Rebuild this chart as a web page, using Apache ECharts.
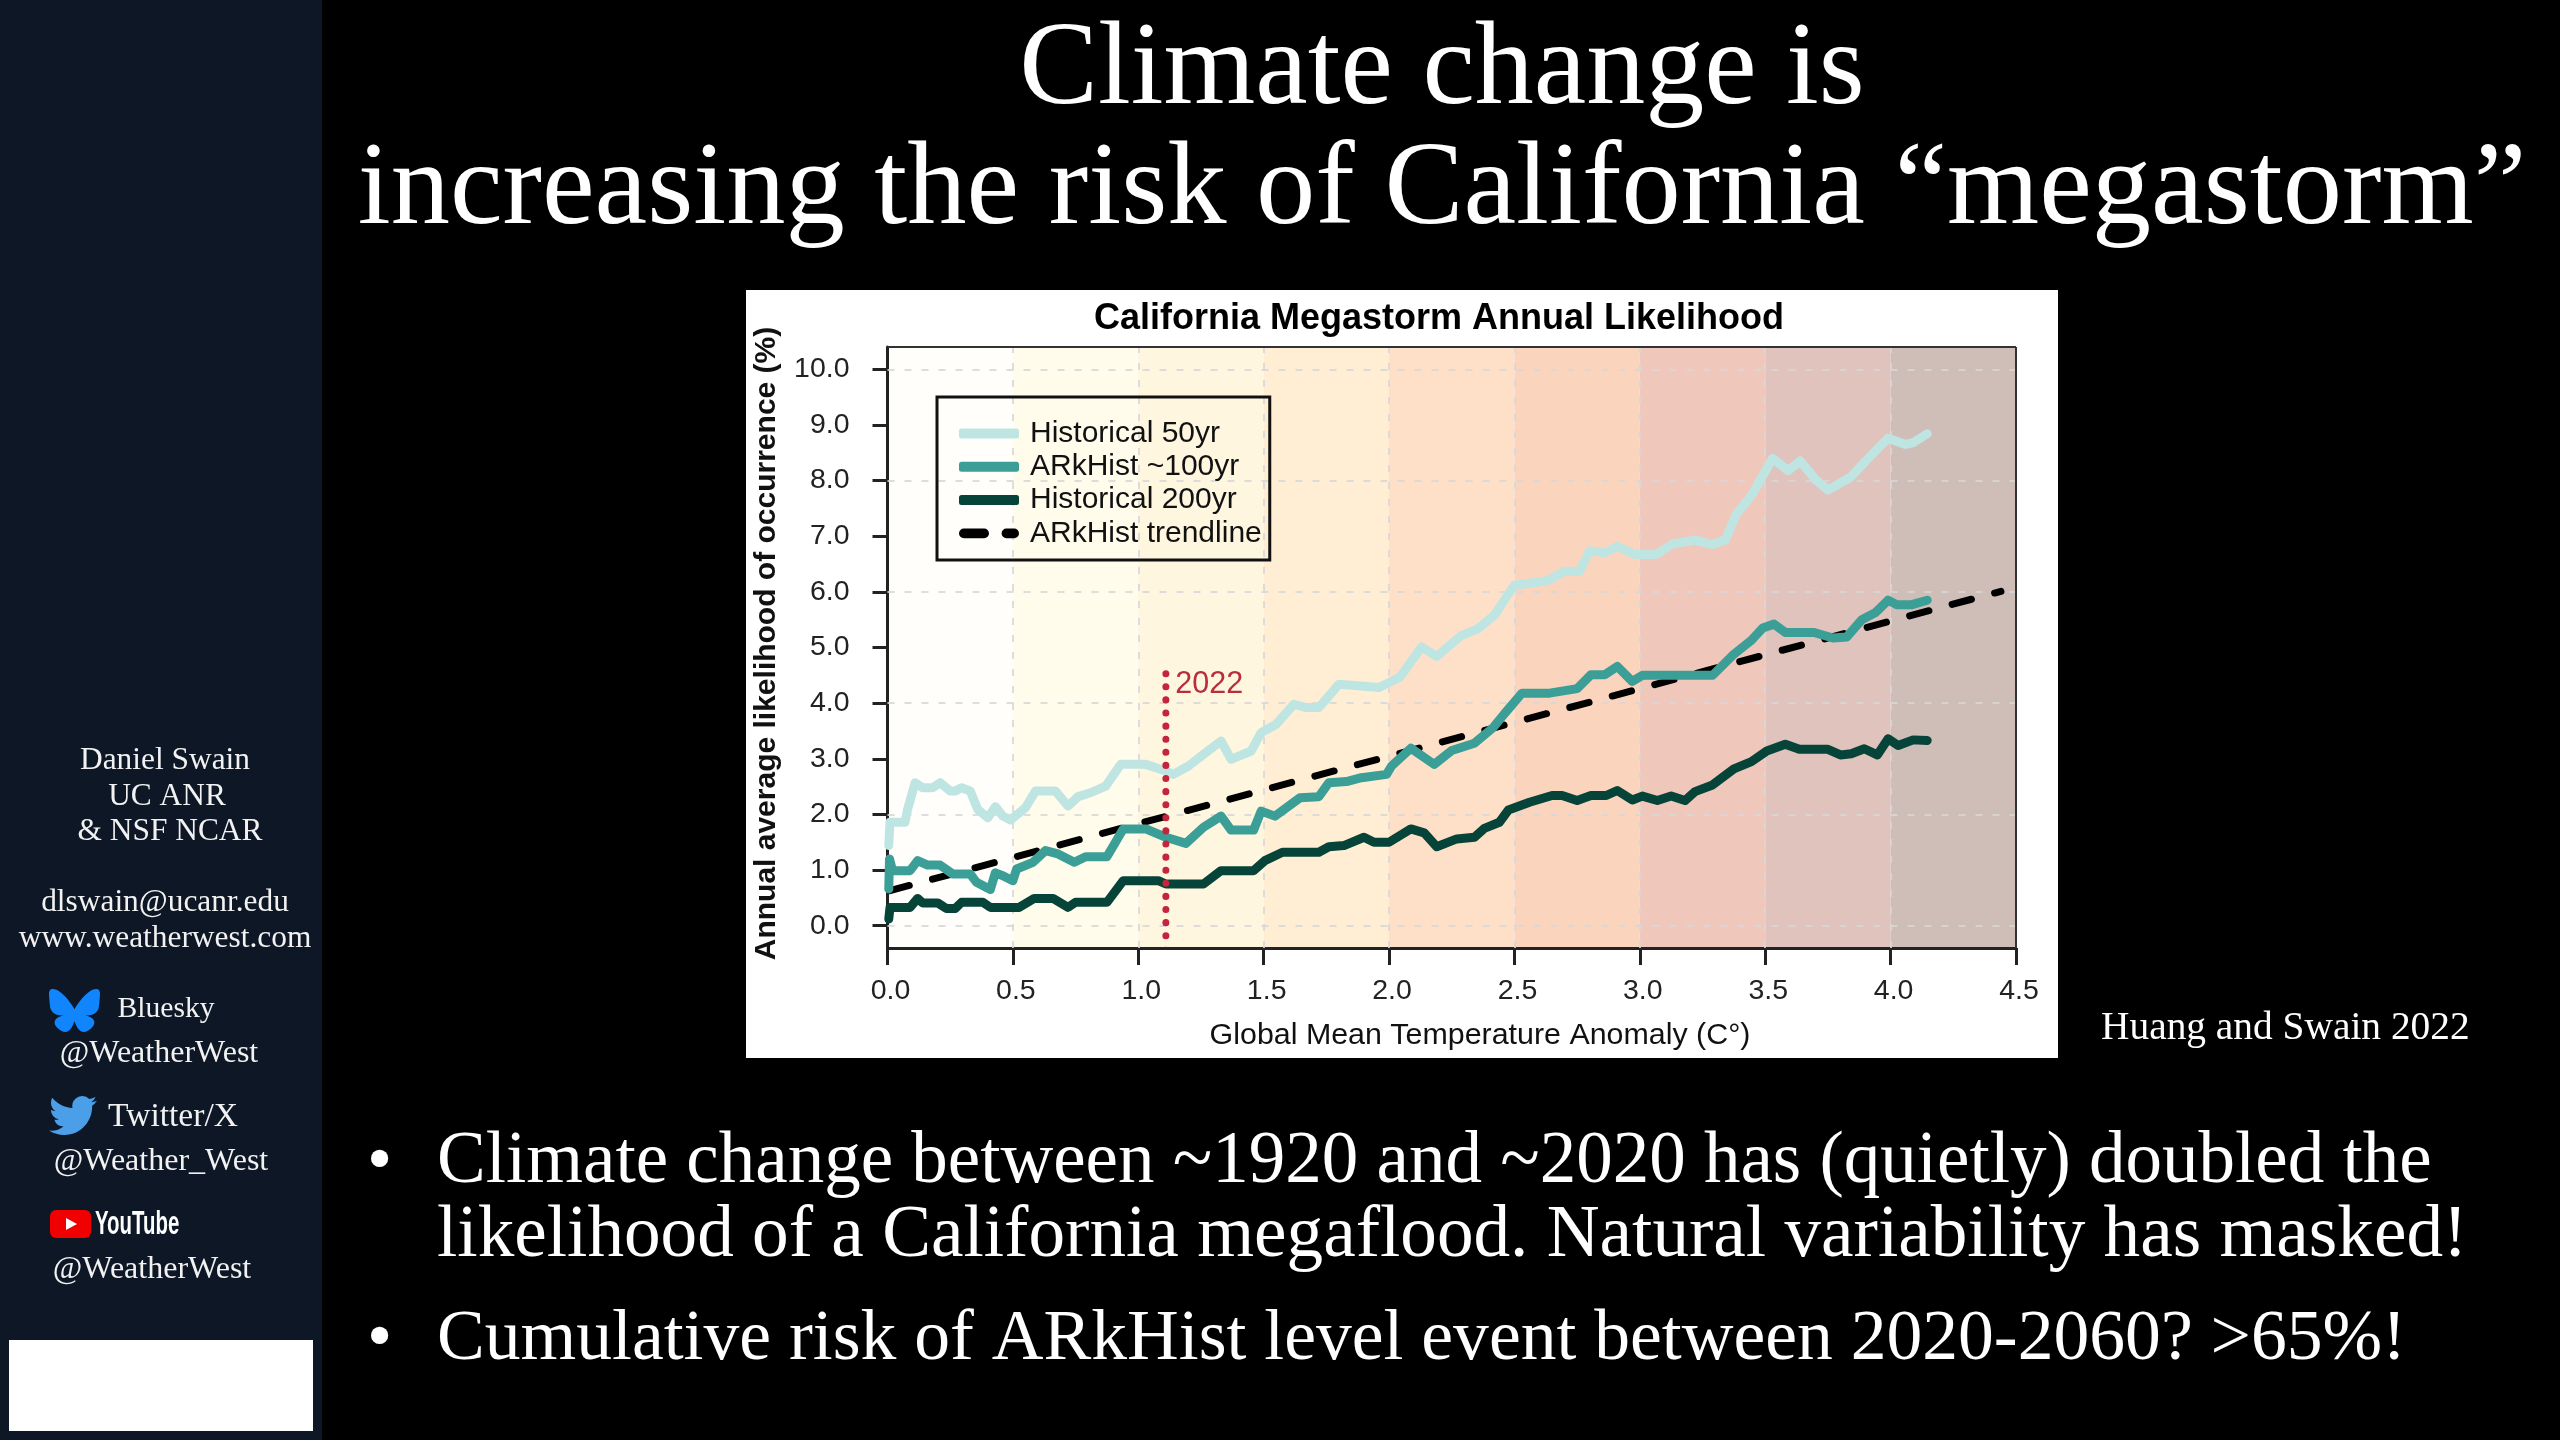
<!DOCTYPE html>
<html><head><meta charset="utf-8">
<style>html,body{margin:0;padding:0;background:#000}#c{width:2560px;height:1440px}</style>
<script src="https://cdn.jsdelivr.net/npm/echarts@6/dist/echarts.min.js"></script>
</head><body><div id="c"></div>
<script>
const historical50 = [[0.005,1.44],[0.01,1.86],[0.07,1.86],[0.08,2.09],[0.11,2.57],[0.14,2.48],[0.18,2.48],[0.21,2.57],[0.25,2.42],[0.27,2.42],[0.295,2.48],[0.33,2.42],[0.36,2.09],[0.40,1.94],[0.43,2.14],[0.46,1.97],[0.49,1.9],[0.55,2.12],[0.59,2.42],[0.67,2.42],[0.72,2.15],[0.76,2.32],[0.81,2.39],[0.87,2.51],[0.93,2.9],[1.03,2.9],[1.11,2.78],[1.14,2.72],[1.2,2.87],[1.26,3.08],[1.33,3.32],[1.37,2.99],[1.45,3.14],[1.49,3.47],[1.55,3.62],[1.62,3.98],[1.67,3.92],[1.72,3.92],[1.80,4.34],[1.96,4.28],[2.044,4.47],[2.13,5.01],[2.19,4.84],[2.286,5.21],[2.355,5.34],[2.42,5.58],[2.468,5.91],[2.50,6.12],[2.63,6.2],[2.70,6.37],[2.76,6.37],[2.80,6.74],[2.86,6.7],[2.91,6.82],[2.98,6.67],[3.065,6.67],[3.13,6.86],[3.22,6.93],[3.29,6.85],[3.34,6.93],[3.385,7.4],[3.445,7.73],[3.53,8.4],[3.59,8.18],[3.64,8.35],[3.70,8.02],[3.75,7.83],[3.84,8.06],[3.90,8.35],[3.99,8.76],[4.06,8.65],[4.09,8.68],[4.146,8.84]];
const arkHist100 = [[0.005,0.66],[0.008,1.2],[0.02,0.99],[0.09,0.99],[0.12,1.17],[0.16,1.09],[0.21,1.09],[0.26,0.93],[0.33,0.93],[0.355,0.78],[0.41,0.65],[0.43,0.95],[0.46,0.9],[0.5,0.81],[0.515,1.02],[0.58,1.14],[0.63,1.35],[0.68,1.29],[0.745,1.14],[0.79,1.24],[0.875,1.24],[0.94,1.74],[1.03,1.74],[1.11,1.59],[1.19,1.48],[1.26,1.77],[1.33,1.97],[1.37,1.72],[1.46,1.72],[1.49,2.06],[1.545,1.97],[1.645,2.3],[1.72,2.32],[1.76,2.57],[1.83,2.59],[1.89,2.66],[1.99,2.72],[2.01,2.87],[2.087,3.19],[2.18,2.9],[2.25,3.15],[2.34,3.28],[2.415,3.56],[2.46,3.81],[2.53,4.18],[2.64,4.18],[2.75,4.26],[2.805,4.51],[2.86,4.51],[2.91,4.66],[2.97,4.39],[3.01,4.5],[3.29,4.5],[3.375,4.88],[3.445,5.13],[3.49,5.35],[3.535,5.42],[3.58,5.27],[3.695,5.27],[3.77,5.17],[3.825,5.19],[3.885,5.5],[3.94,5.63],[3.99,5.85],[4.025,5.77],[4.085,5.77],[4.146,5.85]];
const historical200 = [[0.005,0.12],[0.01,0.33],[0.09,0.33],[0.12,0.49],[0.14,0.41],[0.2,0.41],[0.235,0.31],[0.27,0.31],[0.295,0.42],[0.38,0.42],[0.41,0.33],[0.525,0.33],[0.585,0.49],[0.66,0.49],[0.72,0.33],[0.75,0.42],[0.875,0.42],[0.94,0.81],[1.08,0.81],[1.11,0.75],[1.26,0.75],[1.33,0.99],[1.46,0.99],[1.505,1.17],[1.575,1.32],[1.72,1.32],[1.76,1.42],[1.82,1.44],[1.9,1.59],[1.94,1.5],[2.0,1.5],[2.087,1.74],[2.14,1.67],[2.19,1.42],[2.27,1.56],[2.34,1.59],[2.38,1.75],[2.44,1.86],[2.476,2.08],[2.56,2.22],[2.65,2.34],[2.69,2.34],[2.75,2.25],[2.805,2.34],[2.866,2.34],[2.91,2.43],[2.97,2.26],[3.01,2.33],[3.07,2.25],[3.125,2.33],[3.18,2.25],[3.22,2.41],[3.29,2.53],[3.375,2.82],[3.445,2.95],[3.506,3.14],[3.58,3.26],[3.636,3.17],[3.75,3.17],[3.80,3.07],[3.843,3.09],[3.895,3.18],[3.947,3.07],[3.99,3.36],[4.03,3.24],[4.09,3.34],[4.146,3.33]];
const arkTrend = [[0.01,0.63],[4.44,6.01]];
const marker2022 = [[1.11,4.53],[1.11,-0.38]];
const bandEdges = [0,0.5,1,1.5,2,2.5,3,3.5,4,4.5];
const bandColors = ['#fffefa','#fffcec','#fff6e0','#ffeed4','#fee0c8','#fbd4be','#efc8bb','#e0c3bc','#cfbdb7'];
const yTicks = [0,1,2,3,4,5,6,7,8,9,10];
const yGrid = [0,2,4,6,8,10];
const xGrid = [0.5,1,1.5,2,2.5,3,3.5,4];
const seriesNames = ['Historical 50yr','ARkHist ~100yr','Historical 200yr','ARkHist trendline'];

const SERIF = '"Liberation Serif"', SANS = '"Liberation Sans"';
const slideTexts = [
 ['Climate change is',1442,72,'118px',SERIF,'center'],
 ['increasing the risk of California \u201cmegastorm\u201d',1442,192,'118.5px',SERIF,'center'],
 ['\u2022',367,1163,'72px',SERIF,'left'],
 ['Climate change between ~1920 and ~2020 has (quietly) doubled the',437,1163,'73px',SERIF,'left'],
 ['likelihood of a California megaflood. Natural variability has masked!',437,1237,'73.2px',SERIF,'left'],
 ['\u2022',367,1340,'72px',SERIF,'left'],
 ['Cumulative risk of ARkHist level event between 2020-2060? >65%!',437,1340,'71.6px',SERIF,'left'],
 ['Huang and Swain 2022',2101,1029,'39.4px',SERIF,'left']
];
const sideTexts = [
 ['Daniel Swain',165,761,31.4],['UC ANR',167,797,31.4],['& NSF NCAR',170,832,31.4],
 ['dlswain@ucanr.edu',165,903,31.4],['www.weatherwest.com',165,939,31.4],
 ['Bluesky',166,1009,29.6],['@WeatherWest',159,1054,32],
 ['Twitter/X',173,1117,33.6],['@Weather_West',161,1162,32],['@WeatherWest',152,1270,32]
];
const blueskyPath='M13.873 3.805C21.21 9.332 29.103 20.537 32 26.55v15.882c0-.338-.13.044-.41.867-1.512 4.456-7.418 21.847-20.923 7.944-7.111-7.32-3.819-14.64 9.125-16.85-7.405 1.264-15.73-.825-18.014-9.015C1.12 23.022 0 8.51 0 6.55 0-3.268 8.579-.182 13.873 3.805ZM50.127 3.805C42.79 9.332 34.897 20.537 32 26.55v15.882c0-.338.13.044.41.867 1.512 4.456 7.418 21.847 20.923 7.944 7.111-7.32 3.819-14.64-9.125-16.85 7.405 1.264 15.73-.825 18.014-9.015C62.88 23.022 64 8.51 64 6.55c0-9.818-8.578-6.732-13.873-2.745Z';
const twitterPath='M23.953 4.57a10 10 0 0 1-2.825.775a4.958 4.958 0 0 0 2.163-2.723c-.951.555-2.005.959-3.127 1.184a4.92 4.92 0 0 0-8.384 4.482C7.69 8.095 4.067 6.13 1.64 3.162a4.822 4.822 0 0 0-.666 2.475c0 1.71.87 3.213 2.188 4.096a4.904 4.904 0 0 1-2.228-.616v.06a4.923 4.923 0 0 0 3.946 4.827a4.996 4.996 0 0 1-2.212.085a4.936 4.936 0 0 0 4.604 3.417a9.867 9.867 0 0 1-6.102 2.105c-.39 0-.779-.023-1.17-.067a13.995 13.995 0 0 0 7.557 2.209c9.053 0 13.998-7.496 13.998-13.985c0-.21 0-.42-.015-.63A9.935 9.935 0 0 0 24 4.59z';
const icons = [
 [blueskyPath,49,989,51,43,'#1185fe'],
 [twitterPath,49,1096,48,39,'#4a9fe8']
];
const trendIcon='path://M5 0H26A5 5 0 0 1 26 10H5A5 5 0 0 1 5 0ZM49 0H57A5 5 0 0 1 57 10H49A5 5 0 0 1 49 0Z';

function txt(t,x,y,font,fill,align,weight){
  return {type:'text',z:-5,silent:true,style:{text:t,x:x,y:y,fill:fill,align:align||'left',verticalAlign:'middle',font:(weight?weight+' ':'')+font}};
}
const graphics = [
 {type:'rect',z:-10,silent:true,shape:{x:0,y:0,width:322,height:1440},style:{fill:'#0d1726'}},
 {type:'rect',z:-10,silent:true,shape:{x:9,y:1340,width:304,height:91},style:{fill:'#ffffff'}},
 {type:'rect',z:-10,silent:true,shape:{x:746,y:290,width:1312,height:768},style:{fill:'#ffffff'}},
 {type:'rect',z:-5,silent:true,shape:{x:50,y:1210,width:41,height:28,r:6},style:{fill:'#f00000'}},
 {type:'polygon',z:-4,silent:true,shape:{points:[[66,1218],[66,1230],[77,1224]]},style:{fill:'#ffffff'}},
 {type:'text',z:-5,silent:true,x:95,y:1225,scaleX:0.6,style:{text:'YouTube',x:0,y:0,fill:'#ffffff',align:'left',verticalAlign:'middle',font:'bold 34px '+SANS}},
 txt('California Megastorm Annual Likelihood',1439,319,'36px '+SANS,'#000000','center','bold'),
 txt('Global Mean Temperature Anomaly (C\u00b0)',1480,1036,'30.4px '+SANS,'#111111','center')
];
slideTexts.forEach(r=>graphics.push(txt(r[0],r[1],r[2],r[3]+' '+r[4],'#ffffff',r[5])));
sideTexts.forEach(r=>graphics.push(txt(r[0],r[1],r[2],r[3]+'px '+SERIF,'#f2f2f2','center')));

function lineSeries(name,data,color,width,extra){
  return Object.assign({type:'line',name:name,data:data,showSymbol:false,symbol:'none',silent:true,animation:false,z:3,
    lineStyle:{color:color,width:width,join:'round',cap:'round'},itemStyle:{color:color}},extra||{});
}
const option = {
 backgroundColor:'#000000',
 animation:false,
 graphic:graphics,
 grid:{left:887.5,top:347,width:1128.5,height:601,show:false},
 xAxis:{type:'value',min:0,max:4.5,interval:0.5,
   axisLine:{show:true,onZero:false,lineStyle:{color:'#222',width:3}},
   axisTick:{show:true,length:17,lineStyle:{color:'#222',width:3}},
   axisLabel:{show:true,margin:29,padding:[0,0,0,6],fontFamily:'Liberation Sans',fontSize:28.5,color:'#222',formatter:v=>v.toFixed(1),showMinLabel:true,showMaxLabel:true},
   splitLine:{show:false}},
 yAxis:{type:'value',min:-0.4,max:10.4,
   axisLine:{show:true,onZero:false,lineStyle:{color:'#222',width:3}},
   axisTick:{show:true,length:15,customValues:yTicks,lineStyle:{color:'#222',width:3}},
   axisLabel:{show:true,margin:38,customValues:yTicks,fontFamily:'Liberation Sans',fontSize:28.5,color:'#222',formatter:v=>v.toFixed(1)},
   splitLine:{show:false},
   name:'Annual average likelihood of occurrence (%)',nameLocation:'middle',nameGap:106,
   nameTextStyle:{fontFamily:'Liberation Sans',fontWeight:'bold',fontSize:30,color:'#111',padding:[0,0,0,8]}},
 legend:{show:true,orient:'vertical',left:937,top:397,
   data:[{name:seriesNames[0],icon:'roundRect'},{name:seriesNames[1],icon:'roundRect'},{name:seriesNames[2],icon:'roundRect'},{name:seriesNames[3],icon:trendIcon}],
   itemWidth:60,itemHeight:10,itemGap:3.3,padding:[21.5,8,11.5,22],
   borderColor:'#111',borderWidth:3,backgroundColor:'transparent',selectedMode:false,
   textStyle:{fontFamily:'Liberation Sans',fontSize:30,color:'#111',lineHeight:30,padding:[0,0,0,6]}},
 series:[
  {type:'custom',name:'icons',silent:true,z:-3,animation:false,coordinateSystem:'none',
   data:icons.map((r,i)=>i),
   renderItem:function(p){
     const r=icons[p.dataIndex];
     return {type:'path',shape:{pathData:r[0],x:r[1],y:r[2],width:r[3],height:r[4],layout:'cover'},style:{fill:r[5]}};
   }},
  {type:'custom',name:'bands',silent:true,z:-1,animation:false,
   coordinateSystem:'cartesian2d',encode:{x:[0,1]},
   data:bandColors.map((c,i)=>[bandEdges[i],bandEdges[i+1]]),
   renderItem:function(p,api){
     const a=api.coord([api.value(0),10.4]),b=api.coord([api.value(1),-0.4]);
     return {type:'rect',shape:{x:a[0],y:a[1],width:b[0]-a[0],height:b[1]-a[1]},style:{fill:bandColors[p.dataIndex]}};
   }},
  {type:'line',name:'grid',data:[],silent:true,z:1,animation:false,
   markLine:{silent:true,symbol:'none',z:1,animation:false,label:{show:false},
     lineStyle:{color:'rgba(215,215,215,0.85)',width:2,type:[7,10]},
     data:yGrid.map(y=>({yAxis:y})).concat(xGrid.map(x=>({xAxis:x})))}},
  {type:'line',name:'frame',data:[],silent:true,z:6,animation:false,
   markLine:{silent:true,symbol:'none',z:6,animation:false,label:{show:false},
     lineStyle:{color:'#333',width:2,type:'solid'},
     data:[{yAxis:10.4},{xAxis:4.5}]}},
  lineSeries(seriesNames[3],arkTrend,'#000000',7,{z:3,lineStyle:{color:'#000',width:7,type:[20,24],cap:'round'}}),
  lineSeries(seriesNames[0],historical50,'#bfe5e3',9,{z:4}),
  lineSeries(seriesNames[1],arkHist100,'#3b9f98',9,{z:4}),
  lineSeries(seriesNames[2],historical200,'#06443a',9,{z:4}),
  {type:'line',name:'2022',silent:true,z:5,animation:false,showSymbol:true,symbol:'circle',symbolSize:1,
   itemStyle:{color:'#c4243c'},
   data:marker2022.map((v,i)=>i===0?{value:v,label:{show:true,formatter:'2022',position:'right',distance:9,offset:[0,11],fontFamily:'Liberation Sans',fontSize:30.5,color:'#b5303c'}}:{value:v}),
   lineStyle:{color:'#c4243c',width:7,type:[0.1,13],cap:'round'}}
 ]
};
const chart = echarts.init(document.getElementById('c'),null,{renderer:'canvas',width:2560,height:1440});
chart.setOption(option);
</script></body></html>
